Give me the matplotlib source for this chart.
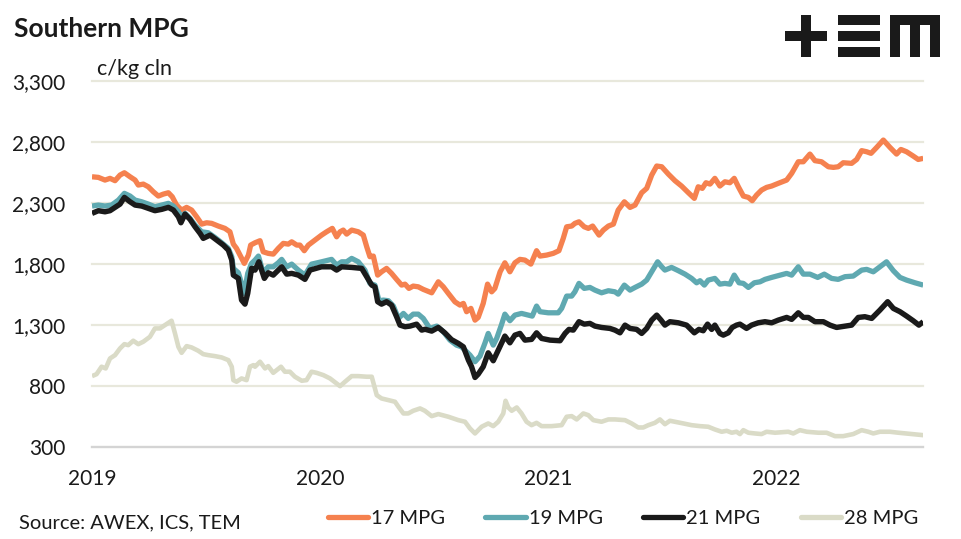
import matplotlib
matplotlib.use('Agg')
import matplotlib.pyplot as plt
from matplotlib.patches import Rectangle
from matplotlib.lines import Line2D
from matplotlib.ticker import FuncFormatter

plt.rcParams['font.family'] = ['Lato', 'DejaVu Sans']

# ---------------- data (decimal year, c/kg clean) ----------------
mpg17 = [(2019.000, 2515), (2019.028, 2510), (2019.057, 2488), (2019.079, 2502), (2019.101, 2483),
         (2019.123, 2529), (2019.142, 2548), (2019.167, 2515), (2019.189, 2488), (2019.203, 2447),
         (2019.225, 2455), (2019.247, 2433), (2019.269, 2392), (2019.291, 2357), (2019.313, 2373),
         (2019.335, 2384), (2019.352, 2351), (2019.371, 2283), (2019.393, 2242), (2019.415, 2264),
         (2019.437, 2242), (2019.459, 2187), (2019.481, 2127), (2019.503, 2138), (2019.525, 2133),
         (2019.554, 2111), (2019.583, 2092), (2019.605, 2064), (2019.620, 1963), (2019.634, 1928),
         (2019.649, 1873), (2019.668, 1805), (2019.686, 1873), (2019.696, 1955), (2019.715, 1974),
         (2019.737, 1991), (2019.751, 1900), (2019.773, 1887), (2019.795, 1881), (2019.817, 1928),
         (2019.839, 1969), (2019.861, 1963), (2019.876, 1982), (2019.898, 1955), (2019.912, 1955),
         (2019.931, 1909), (2019.949, 1955), (2019.978, 1996), (2020.007, 2037), (2020.029, 2064),
         (2020.054, 2092), (2020.073, 2023), (2020.088, 2064), (2020.102, 2078), (2020.117, 2045),
         (2020.139, 2078), (2020.168, 2064), (2020.190, 2037), (2020.205, 1941), (2020.219, 1860),
         (2020.234, 1865), (2020.253, 1709), (2020.270, 1736), (2020.292, 1764), (2020.314, 1723),
         (2020.336, 1674), (2020.358, 1627), (2020.373, 1635), (2020.390, 1600), (2020.409, 1619),
         (2020.431, 1613), (2020.453, 1592), (2020.490, 1564), (2020.519, 1654), (2020.541, 1613),
         (2020.563, 1559), (2020.592, 1490), (2020.614, 1463), (2020.629, 1477), (2020.643, 1409),
         (2020.662, 1436), (2020.680, 1340), (2020.694, 1362), (2020.716, 1477), (2020.735, 1635),
         (2020.753, 1572), (2020.767, 1600), (2020.790, 1736), (2020.811, 1810), (2020.833, 1736),
         (2020.855, 1810), (2020.877, 1838), (2020.899, 1832), (2020.925, 1799), (2020.950, 1909),
         (2020.965, 1865), (2020.994, 1873), (2021.023, 1887), (2021.048, 1909), (2021.067, 2010),
         (2021.082, 2105), (2021.104, 2111), (2021.118, 2133), (2021.136, 2146), (2021.159, 2105),
         (2021.177, 2092), (2021.196, 2111), (2021.224, 2037), (2021.243, 2078), (2021.265, 2111),
         (2021.287, 2127), (2021.308, 2242), (2021.335, 2310), (2021.360, 2264), (2021.382, 2283),
         (2021.411, 2384), (2021.433, 2420), (2021.455, 2529), (2021.477, 2603), (2021.499, 2597),
         (2021.528, 2537), (2021.557, 2483), (2021.586, 2439), (2021.616, 2384), (2021.642, 2338),
         (2021.659, 2433), (2021.677, 2420), (2021.693, 2466), (2021.711, 2455), (2021.732, 2502),
         (2021.754, 2439), (2021.776, 2474), (2021.798, 2466), (2021.817, 2502), (2021.835, 2433),
         (2021.857, 2357), (2021.879, 2346), (2021.896, 2319), (2021.915, 2365), (2021.937, 2406),
         (2021.959, 2428), (2021.981, 2439), (2022.010, 2461), (2022.047, 2488), (2022.069, 2543),
         (2022.098, 2638), (2022.120, 2638), (2022.149, 2701), (2022.171, 2647), (2022.200, 2638),
         (2022.230, 2597), (2022.252, 2592), (2022.273, 2597), (2022.295, 2630), (2022.332, 2625),
         (2022.354, 2657), (2022.376, 2729), (2022.398, 2720), (2022.417, 2707), (2022.442, 2756),
         (2022.471, 2816), (2022.500, 2756), (2022.529, 2701), (2022.548, 2739), (2022.573, 2720),
         (2022.602, 2685), (2022.624, 2657), (2022.646, 2666)]

mpg19 = [(2019.000, 2275), (2019.028, 2283), (2019.057, 2275), (2019.086, 2283), (2019.116, 2324),
         (2019.142, 2379), (2019.167, 2357), (2019.189, 2324), (2019.218, 2310), (2019.247, 2291),
         (2019.276, 2269), (2019.306, 2283), (2019.335, 2297), (2019.357, 2275), (2019.379, 2228),
         (2019.393, 2187), (2019.408, 2215), (2019.430, 2174), (2019.452, 2119), (2019.481, 2064),
         (2019.510, 2056), (2019.539, 2018), (2019.569, 1974), (2019.598, 1928), (2019.613, 1860),
         (2019.620, 1764), (2019.642, 1728), (2019.656, 1641), (2019.668, 1559), (2019.683, 1723),
         (2019.700, 1805), (2019.715, 1832), (2019.730, 1865), (2019.751, 1728), (2019.773, 1777),
         (2019.795, 1777), (2019.817, 1810), (2019.832, 1838), (2019.854, 1777), (2019.876, 1799),
         (2019.905, 1750), (2019.934, 1709), (2019.963, 1799), (2020.007, 1818), (2020.051, 1838),
         (2020.073, 1791), (2020.095, 1818), (2020.117, 1818), (2020.139, 1846), (2020.168, 1818),
         (2020.197, 1750), (2020.219, 1641), (2020.241, 1627), (2020.259, 1499), (2020.278, 1504),
         (2020.300, 1499), (2020.322, 1455), (2020.344, 1354), (2020.366, 1395), (2020.387, 1354),
         (2020.409, 1389), (2020.431, 1389), (2020.453, 1354), (2020.482, 1272), (2020.512, 1291),
         (2020.541, 1245), (2020.570, 1176), (2020.599, 1135), (2020.621, 1121), (2020.636, 1094),
         (2020.658, 1053), (2020.680, 999), (2020.702, 1045), (2020.724, 1154), (2020.738, 1231),
         (2020.760, 1135), (2020.775, 1190), (2020.797, 1307), (2020.811, 1389), (2020.833, 1335),
         (2020.855, 1381), (2020.884, 1395), (2020.914, 1381), (2020.931, 1373), (2020.950, 1455),
         (2020.965, 1409), (2021.001, 1400), (2021.045, 1400), (2021.060, 1436), (2021.082, 1537),
         (2021.104, 1537), (2021.118, 1572), (2021.136, 1641), (2021.159, 1600), (2021.184, 1608),
         (2021.206, 1586), (2021.235, 1564), (2021.265, 1581), (2021.294, 1572), (2021.308, 1553),
         (2021.335, 1627), (2021.360, 1586), (2021.382, 1608), (2021.411, 1635), (2021.433, 1668),
         (2021.455, 1736), (2021.481, 1818), (2021.499, 1777), (2021.513, 1750), (2021.542, 1772),
         (2021.572, 1745), (2021.601, 1717), (2021.630, 1682), (2021.652, 1646), (2021.667, 1663),
         (2021.686, 1627), (2021.703, 1668), (2021.732, 1682), (2021.754, 1635), (2021.776, 1641),
         (2021.798, 1635), (2021.817, 1709), (2021.838, 1646), (2021.857, 1641), (2021.879, 1608),
         (2021.905, 1646), (2021.930, 1654), (2021.952, 1674), (2021.981, 1690), (2022.018, 1709),
         (2022.047, 1723), (2022.069, 1709), (2022.098, 1777), (2022.120, 1717), (2022.149, 1717),
         (2022.183, 1690), (2022.212, 1717), (2022.244, 1682), (2022.273, 1674), (2022.303, 1696),
         (2022.339, 1701), (2022.376, 1750), (2022.398, 1756), (2022.427, 1736), (2022.456, 1777),
         (2022.485, 1818), (2022.515, 1745), (2022.544, 1690), (2022.573, 1668), (2022.610, 1646),
         (2022.646, 1627)]

mpg21 = [(2019.000, 2215), (2019.028, 2237), (2019.057, 2228), (2019.079, 2237), (2019.101, 2264),
         (2019.123, 2291), (2019.142, 2346), (2019.167, 2310), (2019.189, 2283), (2019.218, 2275),
         (2019.247, 2256), (2019.276, 2237), (2019.306, 2248), (2019.335, 2264), (2019.357, 2242),
         (2019.379, 2187), (2019.390, 2138), (2019.408, 2209), (2019.430, 2166), (2019.452, 2105),
         (2019.474, 2051), (2019.488, 2010), (2019.518, 2037), (2019.547, 1996), (2019.576, 1955),
         (2019.598, 1914), (2019.613, 1832), (2019.620, 1709), (2019.642, 1682), (2019.656, 1504),
         (2019.671, 1471), (2019.683, 1559), (2019.700, 1764), (2019.715, 1750), (2019.732, 1818),
         (2019.756, 1682), (2019.773, 1728), (2019.795, 1709), (2019.817, 1750), (2019.832, 1777),
         (2019.854, 1717), (2019.876, 1723), (2019.905, 1709), (2019.934, 1674), (2019.956, 1750),
         (2020.007, 1777), (2020.051, 1777), (2020.073, 1750), (2020.095, 1777), (2020.139, 1772),
         (2020.183, 1764), (2020.205, 1696), (2020.227, 1627), (2020.241, 1613), (2020.253, 1491),
         (2020.270, 1471), (2020.292, 1491), (2020.314, 1463), (2020.336, 1368), (2020.351, 1299),
         (2020.373, 1286), (2020.395, 1291), (2020.424, 1307), (2020.446, 1258), (2020.461, 1265),
         (2020.490, 1250), (2020.519, 1280), (2020.548, 1235), (2020.577, 1180), (2020.607, 1149),
         (2020.629, 1121), (2020.651, 1012), (2020.665, 958), (2020.680, 870), (2020.694, 897),
         (2020.716, 958), (2020.738, 1072), (2020.760, 1007), (2020.782, 1094), (2020.811, 1209),
         (2020.833, 1154), (2020.855, 1217), (2020.877, 1231), (2020.899, 1176), (2020.928, 1182),
         (2020.950, 1236), (2020.972, 1190), (2021.009, 1176), (2021.053, 1171), (2021.075, 1231),
         (2021.092, 1264), (2021.111, 1258), (2021.136, 1327), (2021.159, 1307), (2021.184, 1313),
         (2021.206, 1291), (2021.235, 1280), (2021.272, 1272), (2021.294, 1258), (2021.316, 1236),
         (2021.338, 1299), (2021.360, 1272), (2021.389, 1264), (2021.411, 1231), (2021.433, 1272),
         (2021.455, 1340), (2021.477, 1381), (2021.496, 1340), (2021.513, 1299), (2021.535, 1327),
         (2021.572, 1318), (2021.608, 1299), (2021.642, 1236), (2021.662, 1264), (2021.681, 1253),
         (2021.700, 1307), (2021.718, 1264), (2021.732, 1299), (2021.754, 1231), (2021.769, 1217),
         (2021.791, 1236), (2021.808, 1280), (2021.827, 1299), (2021.842, 1307), (2021.871, 1272),
         (2021.893, 1299), (2021.922, 1318), (2021.952, 1327), (2021.981, 1318), (2022.010, 1340),
         (2022.047, 1362), (2022.069, 1346), (2022.098, 1400), (2022.120, 1362), (2022.142, 1362),
         (2022.171, 1327), (2022.208, 1327), (2022.237, 1299), (2022.266, 1280), (2022.303, 1291),
         (2022.332, 1299), (2022.361, 1362), (2022.390, 1368), (2022.420, 1354), (2022.456, 1422),
         (2022.490, 1491), (2022.515, 1436), (2022.544, 1409), (2022.573, 1373), (2022.602, 1335),
         (2022.627, 1299), (2022.646, 1327)]

mpg28 = [(2019.000, 881), (2019.020, 897), (2019.042, 958), (2019.060, 944), (2019.079, 1026),
         (2019.101, 1053), (2019.123, 1108), (2019.142, 1143), (2019.159, 1135), (2019.181, 1171),
         (2019.203, 1143), (2019.225, 1163), (2019.254, 1203), (2019.276, 1272), (2019.298, 1272),
         (2019.320, 1299), (2019.349, 1335), (2019.364, 1231), (2019.379, 1121), (2019.393, 1072),
         (2019.415, 1127), (2019.437, 1116), (2019.466, 1089), (2019.488, 1061), (2019.510, 1053),
         (2019.539, 1045), (2019.569, 1034), (2019.598, 1012), (2019.613, 958), (2019.620, 848),
         (2019.634, 835), (2019.656, 862), (2019.678, 848), (2019.693, 958), (2019.708, 971),
         (2019.715, 958), (2019.737, 999), (2019.759, 944), (2019.773, 963), (2019.795, 908),
         (2019.829, 958), (2019.846, 917), (2019.868, 917), (2019.890, 876), (2019.920, 843),
         (2019.941, 848), (2019.963, 917), (2019.985, 908), (2020.015, 889), (2020.044, 862),
         (2020.088, 799), (2020.110, 835), (2020.139, 881), (2020.168, 881), (2020.205, 876),
         (2020.227, 876), (2020.249, 725), (2020.270, 698), (2020.300, 684), (2020.329, 671),
         (2020.344, 630), (2020.366, 575), (2020.387, 575), (2020.409, 597), (2020.439, 616),
         (2020.460, 597), (2020.490, 553), (2020.519, 570), (2020.563, 548), (2020.607, 520),
         (2020.636, 507), (2020.658, 452), (2020.680, 411), (2020.709, 466), (2020.738, 493),
         (2020.760, 471), (2020.782, 507), (2020.804, 575), (2020.814, 679), (2020.826, 624),
         (2020.841, 597), (2020.863, 624), (2020.884, 575), (2020.906, 507), (2020.928, 479),
         (2020.950, 498), (2020.972, 471), (2021.016, 471), (2021.060, 479), (2021.082, 548),
         (2021.104, 553), (2021.126, 526), (2021.155, 575), (2021.177, 561), (2021.199, 520),
         (2021.235, 507), (2021.265, 526), (2021.294, 526), (2021.338, 520), (2021.367, 493),
         (2021.396, 460), (2021.418, 460), (2021.440, 479), (2021.469, 498), (2021.491, 526),
         (2021.513, 487), (2021.535, 515), (2021.557, 507), (2021.594, 493), (2021.630, 479),
         (2021.667, 471), (2021.703, 466), (2021.732, 444), (2021.762, 425), (2021.784, 433),
         (2021.806, 417), (2021.827, 425), (2021.842, 406), (2021.857, 438), (2021.879, 417),
         (2021.908, 411), (2021.937, 406), (2021.959, 425), (2021.996, 417), (2022.054, 425),
         (2022.076, 411), (2022.105, 438), (2022.135, 425), (2022.186, 417), (2022.222, 417),
         (2022.259, 389), (2022.295, 389), (2022.339, 406), (2022.376, 438), (2022.405, 425),
         (2022.427, 411), (2022.456, 425), (2022.500, 425), (2022.537, 417), (2022.595, 406),
         (2022.646, 397)]

series_labels = ['17 MPG', '19 MPG', '21 MPG', '28 MPG']
series_colors = ['#F5814F', '#5FA9B1', '#1A1A1A', '#DADBC7']
year_ticks = [2019, 2020, 2021, 2022]
value_ticks = [300, 800, 1300, 1800, 2300, 2800, 3300]

# ---------------- figure ----------------
W, H = 962, 539
fig = plt.figure(figsize=(W / 100, H / 100), dpi=100)
ax = fig.add_axes([92 / W, 1 - 447 / H, 831 / W, 366 / H])

all_series = [mpg17, mpg19, mpg21, mpg28]
widths = [3.8, 3.8, 3.9, 3.3]
order = [3, 0, 1, 2]  # draw 28 first, black on top
for i in order:
    t, v = zip(*all_series[i])
    ax.plot(t, v, color=series_colors[i], lw=widths[i], solid_joinstyle='round',
            solid_capstyle='butt', zorder=3 + order.index(i))

ax.set_xlim(2019.0, 2022.645)
ax.set_ylim(300, 3300)
ax.set_yticks(value_ticks)
ax.yaxis.set_major_formatter(FuncFormatter(lambda v, p: f'{int(v):,}'))
ax.set_xticks(year_ticks)
ax.set_xticklabels([str(y) for y in year_ticks])
ax.tick_params(length=0, labelsize=15, labelcolor='#1a1a1a')
ax.tick_params(axis='y', pad=19)
ax.tick_params(axis='x', pad=16)
ax.grid(axis='y', color='#E8E8DC', lw=1.6)
ax.grid(axis='x', visible=False)
for gl in ax.get_ygridlines():
    gl.set_clip_on(False)
ax.set_axisbelow(True)
for s in ['top', 'right', 'left']:
    ax.spines[s].set_visible(False)
ax.spines['bottom'].set_color('#D4D4D4')
ax.spines['bottom'].set_linewidth(1.6)
ax.spines['bottom'].set_zorder(2.5)

# texts
fig.text(14 / W, 1 - 29 / H, 'Southern MPG', fontsize=19, fontweight='bold',
         color='#1a1a1a', va='center', ha='left')
fig.text(97 / W, 1 - 69 / H, 'c/kg cln', fontsize=15.5, color='#1a1a1a', va='center', ha='left')
fig.text(19 / W, 1 - 523 / H, 'Source: AWEX, ICS, TEM', fontsize=14.5, color='#1a1a1a',
         va='center', ha='left')

# legend
handles = [Line2D([], [], color=series_colors[i], lw=3.8, solid_capstyle='round')
           for i in range(4)]
fig.legend(handles, series_labels, loc='center', bbox_to_anchor=(623 / W, 1 - 518 / H),
           ncol=4, frameon=False, fontsize=14.5, handlelength=2.0, handletextpad=0.15,
           columnspacing=2.0, labelcolor='#1a1a1a')

# logo (+ = m)
def rect(x0, y0, x1, y1):
    fig.add_artist(Rectangle((x0 / W, 1 - y1 / H), (x1 - x0) / W, (y1 - y0) / H,
                             transform=fig.transFigure, color='#1a1a1a', lw=0))

rect(785, 31, 827, 41)
rect(801, 15, 811, 57)
rect(838, 15, 880, 25)
rect(838, 31, 880, 41)
rect(838, 47, 880, 57)
rect(890, 15, 940, 25)
rect(890, 15, 900, 57)
rect(910.5, 15, 920.5, 57)
rect(930, 15, 940, 57)

fig.savefig('out.png', dpi=100)
